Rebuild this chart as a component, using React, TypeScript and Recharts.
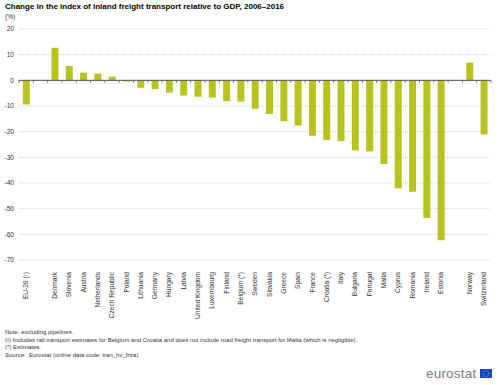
import React from 'react';
import { BarChart, Bar, XAxis, YAxis, CartesianGrid, ReferenceLine } from 'recharts';

// categories ('' slots are the blank gaps between EU-28 / countries / EFTA)
const countries = [
  'EU-28 (¹)', '', 'Denmark', 'Slovenia', 'Austria', 'Netherlands', 'Czech Republic', 'Poland',
  'Lithuania', 'Germany', 'Hungary', 'Latvia', 'United Kingdom', 'Luxembourg', 'Finland',
  'Belgium (*)', 'Sweden', 'Slovakia', 'Greece', 'Spain', 'France', 'Croatia (*)', 'Italy',
  'Bulgaria', 'Portugal', 'Malta', 'Cyprus', 'Romania', 'Ireland', 'Estonia', ' ', 'Norway',
  'Switzerland',
];

// change 2006-2016, %
const values: (number | null)[] = [
  -9.4, null, 12.7, 5.6, 3.0, 2.6, 1.4, -0.5,
  -2.9, -3.4, -4.8, -5.9, -6.4, -6.7, -8.1,
  -8.3, -11.1, -13.1, -15.9, -17.6, -21.6, -23.3, -23.7,
  -27.3, -27.7, -32.6, -42.1, -43.4, -53.6, -62.3, null, 6.9,
  -21.1,
];

const yTicks = [20, 10, 0, -10, -20, -30, -40, -50, -60, -70];

const data = countries.map((name, i) => ({ name, value: values[i] }));

const FONT = '"Liberation Sans", Arial, sans-serif';
const BAR_COLOR = '#b9c31f';

const CountryTick = (props: any) => {
  const { x, y, payload } = props;
  return (
    <text
      x={0}
      y={0}
      transform={`translate(${x + 2.3},${y + 4}) rotate(-90)`}
      textAnchor="end"
      fontSize={6.6}
      fill="#333"
      fontFamily={FONT}
    >
      {payload.value}
    </text>
  );
};

// zero line with small ticks at category boundaries
const ZeroAxis = (props: any) => {
  const { x1, x2, y1 } = props;
  const n = countries.length;
  const step = (x2 - x1) / n;
  const ticks = [];
  for (let i = 0; i <= n; i++) {
    const tx = x1 + i * step;
    ticks.push(<line key={i} x1={tx} x2={tx} y1={y1} y2={y1 + 2.5} stroke="#555" strokeWidth={0.8} />);
  }
  return (
    <g>
      <line x1={x1} x2={x2} y1={y1} y2={y1} stroke="#555" strokeWidth={1} />
      {ticks}
    </g>
  );
};

const EuFlag = () => {
  const stars = [];
  for (let i = 0; i < 12; i++) {
    const a = (i / 12) * Math.PI * 2;
    stars.push(<circle key={i} cx={6 + Math.cos(a) * 2.8} cy={4.5 + Math.sin(a) * 2.8} r={0.45} fill="#ffd617" />);
  }
  return (
    <svg width={12} height={9} style={{ position: 'absolute', left: 480, top: 369 }}>
      <rect x={0} y={0} width={12} height={9} fill="#0e47cb" />
      {stars}
    </svg>
  );
};

export default function App() {
  return (
    <div style={{ position: 'absolute', left: 0, top: 0, width: 500, height: 385, background: '#fff', fontFamily: FONT }}>
      <div style={{ position: 'absolute', left: 5, top: 2, fontSize: 8, fontWeight: 'bold', color: '#000', whiteSpace: 'nowrap' }}>
        Change in the index of inland freight transport relative to GDP, 2006–2016
      </div>
      <div style={{ position: 'absolute', left: 5, top: 13, fontSize: 6.5, color: '#333' }}>(%)</div>

      <div style={{ position: 'absolute', left: 0, top: 0 }}>
        <BarChart width={500} height={320} data={data} margin={{ top: 29, right: 9, left: 0, bottom: 0 }} barCategoryGap="27%">
          <CartesianGrid vertical={false} stroke="#cfcfcf" strokeDasharray="1 1" />
          <XAxis
            dataKey="name"
            interval={0}
            height={60}
            axisLine={false}
            tickLine={false}
            tick={<CountryTick />}
          />
          <YAxis
            domain={[-70, 20]}
            ticks={yTicks}
            width={19}
            axisLine={false}
            tickLine={false}
            tickSize={3}
            tickMargin={2}
            tick={{ fontSize: 6.6, fill: '#333', fontFamily: FONT }}
          />
          <Bar dataKey="value" fill={BAR_COLOR} isAnimationActive={false} />
          <ReferenceLine y={0} shape={<ZeroAxis />} />
        </BarChart>
      </div>

      <div style={{ position: 'absolute', left: 5, top: 329, fontSize: 6, lineHeight: '7.7px', color: '#333', whiteSpace: 'nowrap' }}>
        <div>Note: excluding pipelines.</div>
        <div>(¹) Includes rail transport estimates for Belgium and Croatia and does not include road freight transport for Malta (which is negligible).</div>
        <div>(*) Estimates.</div>
        <div><i>Source:</i>&nbsp; Eurostat (online data code: tran_hv_frtra)</div>
      </div>

      <div style={{ position: 'absolute', left: 426, top: 366, fontSize: 13.5, color: '#7a7a7a', letterSpacing: 0.2 }}>eurostat</div>
      <EuFlag />
    </div>
  );
}
